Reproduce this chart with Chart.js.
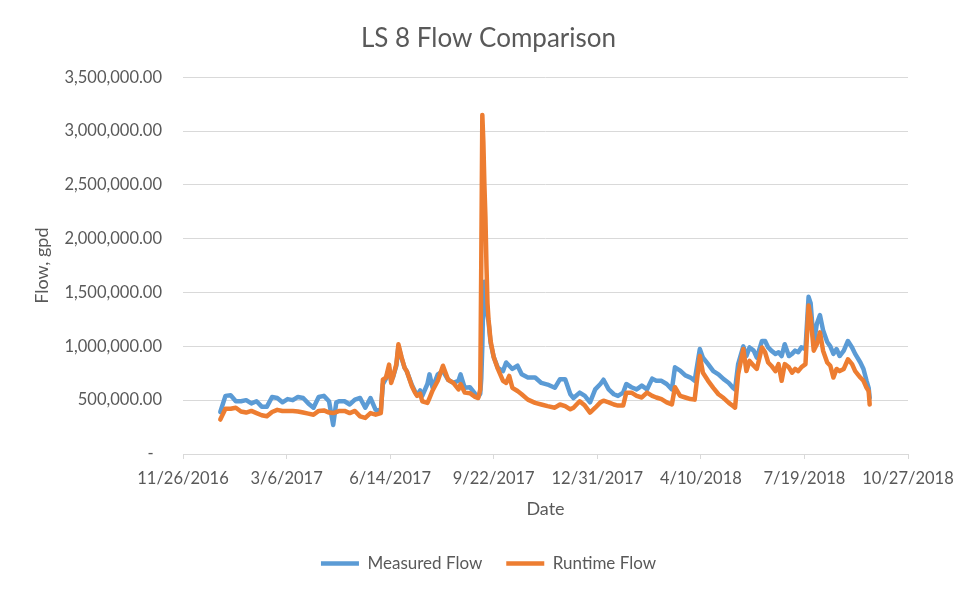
<!DOCTYPE html>
<html><head><meta charset="utf-8">
<script src="https://cdn.jsdelivr.net/npm/chart.js@4.4.1/dist/chart.umd.min.js"></script>
<style>html,body{margin:0;padding:0;background:#fff;}canvas{display:block;}</style>
</head><body>
<canvas id="c" width="977" height="594"></canvas>
<script>
// Day offsets counted from 11/26/2016
const dayOffsets = [
  36,41,46,51,56,61,66,71,76,81,
  86,91,96,101,106,111,116,121,126,131,
  136,141,145,148,151,156,161,166,171,176,
  181,186,191,193,196,199,201,203,206,208,
  211,214,216,221,224,226,229,231,236,238,
  241,246,251,256,261,266,268,272,277,282,
  285,287,288,289,290,291,292,293,294,295,
  297,300,304,309,312,315,318,323,327,333,
  340,346,352,359,364,369,374,377,383,388,
  393,398,403,406,411,416,420,425,428,433,
  438,443,448,453,457,462,467,472,475,480,
  485,490,494,499,502,507,512,517,522,527,
  531,533,536,541,544,547,551,554,559,562,
  565,568,572,575,578,581,585,588,591,594,
  597,601,604,606,609,612,615,618,622,625,
  628,631,634,638,642,646,649,654,657,660,
  662,663
];
const measuredFlow = [
  390000,540000,545000,490000,490000,500000,470000,490000,440000,440000,
  530000,520000,480000,510000,500000,530000,520000,470000,430000,530000,
  540000,490000,270000,480000,490000,490000,460000,505000,520000,430000,
  520000,410000,400000,650000,700000,800000,680000,720000,820000,1000000,
  890000,800000,770000,640000,580000,545000,590000,540000,650000,740000,
  615000,740000,770000,690000,660000,680000,740000,615000,620000,560000,
  530000,560000,700000,1000000,1500000,1600000,1450000,1350000,1280000,1230000,
  1030000,900000,800000,770000,850000,820000,790000,820000,740000,710000,
  710000,660000,645000,615000,695000,695000,555000,520000,570000,540000,
  480000,600000,650000,690000,600000,555000,540000,570000,650000,620000,
  600000,635000,600000,700000,680000,680000,650000,600000,805000,775000,
  730000,710000,680000,975000,895000,835000,770000,740000,695000,660000,
  615000,600000,835000,1000000,910000,990000,960000,895000,1050000,1050000,
  990000,960000,930000,945000,910000,1020000,910000,930000,960000,945000,
  990000,975000,1460000,1400000,1020000,1210000,1290000,1150000,1040000,1000000,
  930000,975000,910000,960000,1050000,990000,930000,850000,790000,680000,
  615000,520000
];
const runtimeFlow = [
  320000,420000,420000,430000,395000,385000,400000,380000,360000,350000,
  390000,410000,400000,400000,400000,395000,385000,375000,365000,400000,
  405000,385000,380000,390000,400000,400000,380000,400000,350000,335000,
  380000,365000,380000,690000,710000,830000,660000,725000,835000,1020000,
  900000,800000,770000,630000,570000,540000,560000,490000,475000,520000,
  590000,680000,820000,690000,660000,600000,650000,570000,565000,530000,
  520000,600000,1800000,3150000,2900000,2500000,2200000,1750000,1400000,1250000,
  1050000,900000,790000,680000,660000,725000,615000,585000,555000,505000,
  475000,460000,445000,430000,460000,445000,415000,430000,490000,450000,
  385000,430000,480000,495000,480000,460000,450000,450000,570000,570000,
  540000,525000,570000,540000,525000,510000,480000,460000,620000,540000,
  525000,510000,505000,910000,755000,680000,615000,555000,520000,475000,
  445000,430000,740000,975000,770000,865000,820000,790000,990000,945000,
  850000,820000,770000,835000,680000,835000,805000,755000,790000,770000,
  805000,835000,1380000,1270000,960000,1020000,1130000,960000,850000,820000,
  710000,790000,770000,790000,880000,835000,770000,710000,680000,615000,
  585000,460000
];
const xTickLabels = ['11/26/2016','3/6/2017','6/14/2017','9/22/2017','12/31/2017','4/10/2018','7/19/2018','10/27/2018'];
const seriesNames = ['Measured Flow','Runtime Flow'];

const FONT = 'Lato, "Open Sans", sans-serif';
const TXT = '#595959';
const GRID = '#D9D9D9';

const toPoints = vals => dayOffsets.map((d, i) => ({x: d, y: vals[i]}));

new Chart(document.getElementById('c'), {
  type: 'line',
  data: {
    datasets: [
      {label: seriesNames[0], data: toPoints(measuredFlow), borderColor: '#5B9BD5', backgroundColor: '#5B9BD5',
       borderWidth: 4.5, pointRadius: 0, tension: 0, borderJoinStyle: 'round', borderCapStyle: 'round', order: 1},
      {label: seriesNames[1], data: toPoints(runtimeFlow), borderColor: '#ED7D31', backgroundColor: '#ED7D31',
       borderWidth: 4.5, pointRadius: 0, tension: 0, borderJoinStyle: 'round', borderCapStyle: 'round', order: 0}
    ]
  },
  options: {
    responsive: false, animation: false, devicePixelRatio: 1,
    layout: {padding: {left: 0, right: 0, top: 0, bottom: 12}},
    plugins: {
      tooltip: {enabled: false},
      title: {display: true, text: 'LS 8 Flow Comparison', color: TXT,
        font: {family: FONT, size: 26, weight: 'normal'}, padding: {top: 23, bottom: 23}},
      legend: {position: 'bottom',
        labels: {usePointStyle: true, pointStyle: 'line', pointStyleWidth: 38, color: TXT, padding: 24,
          font: {family: FONT, size: 17}, sort: (a, b) => a.datasetIndex - b.datasetIndex}}
    },
    scales: {
      x: {type: 'linear', min: 0, max: 700,
        afterBuildTicks: s => { s.ticks = xTickLabels.map((_, i) => ({value: i * 100})); },
        afterFit: s => { s.height = 77; },
        ticks: {autoSkip: false, maxRotation: 0, color: TXT, padding: 10, font: {family: FONT, size: 16.5},
          callback: (v, i) => xTickLabels[i]},
        grid: {drawOnChartArea: false, drawTicks: true, tickLength: 5, color: GRID},
        border: {display: true, color: GRID, width: 1},
        title: {display: true, text: 'Date', color: TXT, font: {family: FONT, size: 18}, padding: {top: 0, bottom: 11}}
      },
      y: {min: 0, max: 3500000,
        afterFit: s => { s.width = 183; },
        ticks: {stepSize: 500000, color: TXT, padding: 21, font: {family: FONT, size: 16.5},
          callback: v => v === 0 ? '-  ' : v.toLocaleString('en-US', {minimumFractionDigits: 2, maximumFractionDigits: 2})},
        grid: {drawTicks: false, color: GRID, lineWidth: 1},
        border: {display: false},
        title: {display: true, text: 'Flow, gpd', color: TXT, font: {family: FONT, size: 18}, padding: {top: 31, bottom: 0}}
      },
      yRightSpace: {position: 'right', display: true,
        afterFit: s => { s.width = 69; },
        ticks: {display: false}, grid: {display: false}, border: {display: false}
      }
    }
  }
});
</script>
</body></html>
